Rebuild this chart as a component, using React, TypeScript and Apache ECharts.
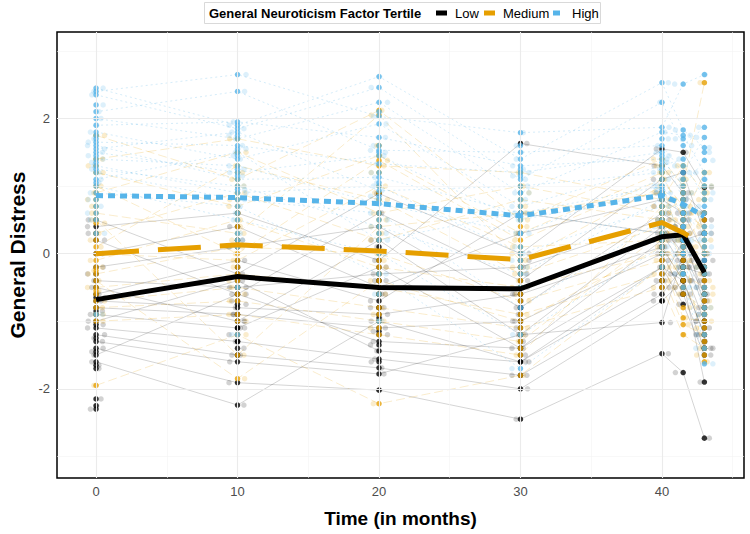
import React, { useEffect, useRef } from "react";
import * as echarts from "echarts";

// ---------- data ----------
const TIMES = [0, 10, 20, 30, 40, 41.5, 43];
const GROUPS = ["Low", "Medium", "High"];
const COLORS = ["#000000", "#E69F00", "#56B4E9"];

// individual trajectories: values at each of TIMES (null = missing)
const LOW_SUBJECTS: (number | null)[][] = [
  [0.5, -0.3, 0.89, 0.0, 1.55, 1.5, 0.98],
  [0.4, 0.6, -0.1, 1.63, 1.3, 0.9, 0.6],
  [0.2, -0.6, 0.6, -0.4, 1.1, 1.2, 0.3],
  [0.0, 0.4, -0.5, 0.3, 0.8, 0.6, 0.0],
  [-0.2, 0.1, 0.4, -0.8, 0.6, 0.4, -0.3],
  [-0.4, -0.5, -0.3, -0.2, 0.5, 0.2, -0.6],
  [-0.5, -1.0, 0.2, -1.2, 0.4, 0.0, -0.8],
  [-0.6, -0.1, -0.7, 0.6, 0.3, -0.2, -1.0],
  [-0.7, -0.8, -0.9, -0.6, 0.1, -0.4, -1.2],
  [-0.8, -0.9, -1.1, -1.0, 0.0, -0.6, -1.4],
  [-0.9, -1.1, -0.2, -1.4, -0.2, -0.75, -1.5],
  [-1.0, -0.4, -1.44, -1.6, -0.4, 0.2, 0.3],
  [-1.1, -1.3, -1.56, -1.8, -0.6, -0.2, -0.3],
  [-1.2, -1.5, -1.69, -2.0, -0.7, -0.4, -1.9],
  [-1.3, -1.6, -1.78, -1.2, -1.02, 0.0, -0.6],
  [-1.4, -1.91, -2.02, -2.45, -1.48, -1.76, -2.73],
  [-1.5, -0.6, -1.3, -1.4, 0.2, 0.4, -0.8],
  [-1.6, -2.24, -1.0, -1.6, -0.2, -0.4, -1.2],
  [-1.7, -1.1, -0.8, -0.8, 0.0, 0.6, -0.5],
  [-2.15, -1.3, -1.2, -1.0, -0.4, -0.6, -1.0],
  [-2.25, -0.9, -0.6, -0.6, 0.3, 0.2, -0.1],
  [-2.3, -1.5, -0.4, -1.8, -0.7, -0.2, -1.4],
  [0.3, 0.2, 0.1, -0.1, 0.9, 0.8, 0.5],
  [-0.3, -0.2, -0.4, -0.3, 0.7, 0.5, -0.2],
  [-0.65, -0.7, -0.6, -0.5, 0.2, 0.1, -0.4],
  [-0.85, -0.5, -0.8, -0.9, -0.3, -0.1, -0.7],
  [-1.05, -1.2, -0.95, -1.1, -0.1, -0.5, -1.1],
  [-1.25, -0.75, -1.15, -1.3, -0.5, -0.3, -1.3],
  [-1.45, -1.4, -1.6, -1.5, 0.1, -0.1, -0.9],
  [-1.65, -1.0, -1.35, -0.7, 0.5, 0.3, -0.2],
];

const MEDIUM_SUBJECTS: (number | null)[][] = [
  [1.75, 1.1, 2.12, 0.5, 1.4, 1.0, 2.53],
  [1.4, 1.7, 1.3, 1.2, 0.8, 1.3, 0.9],
  [1.2, 0.7, 1.45, 0.3, 1.2, 0.5, 1.2],
  [0.9, 1.5, 0.6, 1.0, 0.6, 0.8, 0.3],
  [0.6, 0.3, 2.05, -0.1, 1.0, 0.1, 0.6],
  [0.3, 0.9, 0.2, 0.8, 0.5, -0.1, -0.2],
  [0.1, 1.3, 0.8, -0.3, 0.4, 0.3, 0.1],
  [0.0, -0.1, 1.0, 0.1, 0.2, -0.3, -0.5],
  [-0.1, 0.5, -0.2, -0.5, 0.0, -0.6, -0.8],
  [-0.3, 0.1, 0.0, -0.7, -0.1, -0.95, -1.0],
  [-0.5, -0.3, -0.5, -0.9, -0.3, -1.05, -1.2],
  [-0.7, -0.5, -0.8, -1.1, -0.5, -1.2, -1.4],
  [-0.8, -0.7, -1.0, -1.3, 0.3, 0.2, -1.6],
  [-1.0, -0.9, -1.2, -1.5, 0.7, 0.4, -0.4],
  [-1.95, -1.2, -2.22, -1.8, -0.2, null, -0.9],
  [0.5, -1.5, 0.4, 0.6, 0.9, 0.6, 0.4],
  [-0.4, -1.85, -0.4, -1.0, 0.1, -0.4, -1.1],
  [1.0, 0.0, 1.38, 0.2, 1.1, 0.7, 0.0],
  [-0.6, -0.2, -0.6, -0.2, 0.3, 0.0, -0.6],
  [0.2, 0.4, 0.5, 0.0, 0.6, 0.2, 0.2],
  [1.3, 1.2, 1.6, 0.9, 1.3, 1.1, 1.0],
  [0.8, 0.6, 0.9, 0.4, 0.9, 0.4, 0.5],
  [0.45, 0.2, 0.3, -0.2, 0.7, 0.6, -0.3],
  [-0.2, 0.8, -0.1, -0.4, 0.5, 0.0, 0.0],
  [-0.9, -0.4, -0.3, -0.6, 0.0, -0.2, -0.7],
  [-0.25, -1.0, -0.9, -1.2, -0.4, -0.5, -1.3],
  [0.7, 1.0, 1.2, 0.7, 1.2, 0.9, 0.8],
  [-0.55, -0.6, -1.1, -1.4, 0.2, -0.8, -1.5],
];

const HIGH_SUBJECTS: (number | null)[][] = [
  [2.45, 1.9, 2.62, 1.4, 2.53, 1.83, 1.57],
  [2.4, 2.65, 2.03, 1.79, 1.87, 2.51, 2.65],
  [2.35, 1.85, 2.46, 1.1, 2.24, 1.6, 1.87],
  [2.1, 2.4, 1.53, 1.5, 1.6, 1.2, 1.72],
  [2.0, 1.7, 2.24, 0.9, 1.8, 1.75, 1.2],
  [1.9, 1.95, 1.72, 1.3, 1.4, 1.0, 1.38],
  [1.8, 1.4, 1.92, 0.7, 1.3, 1.4, 0.8],
  [1.65, 1.6, 1.33, 1.2, 1.5, 0.8, 1.0],
  [1.6, 1.1, 1.13, 0.6, 1.0, 0.6, 0.3],
  [1.55, 1.8, 0.93, 1.0, 1.2, 0.4, 0.6],
  [1.5, 1.2, 1.45, 0.5, 0.9, 0.2, -0.3],
  [1.4, 1.3, 0.74, 0.3, 1.1, 0.0, 0.0],
  [1.3, 0.9, 1.0, 0.0, 0.7, -0.3, -0.6],
  [1.25, 1.0, 0.4, -0.3, 0.8, 0.2, -0.9],
  [1.2, 0.8, 0.6, -0.8, 0.5, -0.5, -1.2],
  [1.1, 1.5, 0.2, 0.6, 0.3, 0.0, -1.4],
  [1.0, 0.5, 0.0, -1.2, 0.1, -0.3, -1.63],
  [0.9, 0.7, -0.3, -1.7, -0.2, null, 0.3],
  [0.8, 0.2, 0.8, 0.3, 0.9, 0.6, 0.4],
  [0.6, -0.5, -0.6, -0.2, 0.4, 0.2, -0.1],
  [0.3, -1.2, -1.0, null, 0.2, 0.4, 0.2],
  [-0.9, 0.1, null, -0.5, null, null, null],
  [2.2, 1.75, 2.1, 1.6, 1.7, 1.7, 1.5],
  [1.7, 1.55, 1.6, 1.25, 1.45, 1.3, 1.1],
  [1.35, 1.25, 1.2, 0.8, 1.25, 0.9, 0.7],
  [1.05, 0.95, 0.85, 0.55, 1.0, 0.5, -0.2],
  [0.7, 0.6, 0.5, 0.1, 0.6, 0.1, -0.5],
  [1.75, 1.45, 1.5, 1.15, 1.35, 1.1, 0.9],
  [0.5, 0.3, 0.3, -0.1, 0.0, -0.2, -0.8],
  [1.45, 1.15, 1.05, 0.9, 0.95, 0.7, 0.1],
];

// group means (thick lines)
const LOW_MEAN = [-0.68, -0.34, -0.5, -0.52, 0.25, 0.28, -0.28];
const MEDIUM_MEAN = [0.0, 0.13, 0.04, -0.09, 0.46, 0.31, 0.12];
const HIGH_MEAN = [0.86, 0.83, 0.74, 0.56, 0.86, 0.73, 0.55];

// axis ticks / grid
const X_TICKS = [0, 10, 20, 30, 40];
const X_MINOR = [5, 15, 25, 35, 45];
const Y_TICKS = [-2, 0, 2];
const Y_MINOR = [-3, -1, 1, 3];

// horizontal jitter pattern (months) for the translucent point layer
const JITTER = [-0.55, 0.35, -0.15, 0.6, -0.4, 0.2, 0.5, -0.6, 0.05, -0.3, 0.45];

// only the first subjects of each group have a drawn trajectory line
const TRAJECTORIES_DRAWN = 18;

const FONT = "'Liberation Sans', Arial, Helvetica, sans-serif";

const SUBJECTS = [LOW_SUBJECTS, MEDIUM_SUBJECTS, HIGH_SUBJECTS];
const MEANS = [LOW_MEAN, MEDIUM_MEAN, HIGH_MEAN];

const FAINT_LINE = [
  { color: "rgba(0,0,0,0.17)", type: "solid" as any },
  { color: "rgba(230,159,0,0.2)", type: [9, 4] as any },
  { color: "rgba(86,180,233,0.25)", type: [2, 3] as any },
];
const FAINT_POINT = ["rgba(0,0,0,0.22)", "rgba(230,159,0,0.25)", "rgba(86,180,233,0.25)"];
const MEAN_DASH: any[] = ["solid", [43, 19], [7, 5]];

export default function App() {
  const ref = useRef<HTMLDivElement>(null);

  useEffect(() => {
    if (!ref.current) return;
    const chart = echarts.init(ref.current, undefined, { renderer: "svg" });

    const series: any[] = [];

    // grid lines
    const gl = (v: number, axis: "xAxis" | "yAxis", minor: boolean) => ({
      [axis]: v,
      lineStyle: { color: minor ? "#f3f3f3" : "#ebebeb", width: minor ? 0.6 : 1.1, type: "solid" },
    });
    series.push({
      type: "line",
      data: [],
      silent: true,
      z: 0,
      markLine: {
        silent: true,
        symbol: "none",
        label: { show: false },
        animation: false,
        data: [
          ...X_MINOR.map((v) => gl(v, "xAxis", true)),
          ...Y_MINOR.map((v) => gl(v, "yAxis", true)),
          ...X_TICKS.map((v) => gl(v, "xAxis", false)),
          ...Y_TICKS.map((v) => gl(v, "yAxis", false)),
        ],
      },
    });

    // translucent jittered points
    SUBJECTS.forEach((subs, g) => {
      const pts: number[][] = [];
      subs.forEach((s, j) =>
        s.forEach((v, i) => {
          if (v === null) return;
          pts.push([TIMES[i] + JITTER[(j * 7 + i + g * 3) % JITTER.length], v]);
        })
      );
      series.push({
        type: "scatter",
        data: pts,
        symbolSize: 5.5,
        itemStyle: { color: FAINT_POINT[g] },
        silent: true,
        z: 1,
      });
    });

    // individual trajectories
    SUBJECTS.forEach((subs, g) => {
      subs.slice(0, TRAJECTORIES_DRAWN).forEach((s) => {
        const d = s
          .map((v, i) => (v === null ? null : [TIMES[i], v]))
          .filter((p) => p !== null);
        series.push({
          type: "line",
          data: d,
          showSymbol: false,
          symbol: "none",
          silent: true,
          lineStyle: { color: FAINT_LINE[g].color, width: 1, type: FAINT_LINE[g].type },
          z: 2,
        });
      });
    });

    // solid points
    SUBJECTS.forEach((subs, g) => {
      const pts: number[][] = [];
      subs.forEach((s) =>
        s.forEach((v, i) => {
          if (v !== null) pts.push([TIMES[i], v]);
        })
      );
      series.push({
        type: "scatter",
        name: GROUPS[g],
        data: pts,
        symbolSize: 5.5,
        itemStyle: { color: COLORS[g] },
        silent: true,
        z: 3,
      });
    });

    // mean lines
    MEANS.forEach((m, g) => {
      series.push({
        type: "line",
        name: GROUPS[g] + " mean",
        data: m.map((v, i) => [TIMES[i], v]),
        showSymbol: false,
        symbol: "none",
        silent: true,
        lineStyle: { color: COLORS[g], width: 5, type: MEAN_DASH[g], cap: "butt", join: "miter" },
        z: 5,
      });
    });

    const axisLabel = { color: "#4d4d4d", fontSize: 13, fontFamily: FONT };

    chart.setOption({
      animation: false,
      grid: {
        left: 57,
        right: 6,
        top: 32,
        bottom: 56,
        show: true,
        containLabel: false,
        outerBoundsMode: "none",
        borderColor: "#000",
        borderWidth: 1.5,
        backgroundColor: "#fff",
      },
      xAxis: {
        type: "value",
        min: -2.76,
        max: 45.8,
        splitLine: { show: false },
        axisLine: { show: false },
        axisTick: { show: true, length: 4, lineStyle: { color: "#333" }, customValues: X_TICKS },
        axisLabel: { ...axisLabel, margin: 7, customValues: X_TICKS },
        name: "Time (in months)",
        nameLocation: "middle",
        nameGap: 31,
        nameTextStyle: { fontFamily: FONT, fontWeight: "bold", fontSize: 19, color: "#000" },
      },
      yAxis: {
        type: "value",
        min: -3.32,
        max: 3.28,
        splitLine: { show: false },
        axisLine: { show: false },
        axisTick: { show: true, length: 4, lineStyle: { color: "#333" }, customValues: Y_TICKS },
        axisLabel: { ...axisLabel, margin: 7, customValues: Y_TICKS },
        name: "General Distress",
        nameLocation: "middle",
        nameGap: 29,
        nameRotate: 90,
        nameTextStyle: { fontFamily: FONT, fontWeight: "bold", fontSize: 21, color: "#000" },
      },
      series,
      graphic: [
        {
          type: "rect",
          shape: { x: 204.5, y: 2.5, width: 396, height: 21 },
          style: { fill: "#fff", stroke: "#d9d9d9", lineWidth: 1 },
          z: 20,
        },
        {
          type: "text",
          x: 209,
          y: 13,
          style: {
            text: "General Neuroticism Factor Tertile",
            font: `bold 13px ${FONT}`,
            fill: "#000",
            verticalAlign: "middle",
          },
          z: 21,
        },
        { type: "rect", shape: { x: 436, y: 10.5, width: 11, height: 5 }, style: { fill: COLORS[0] }, z: 21 },
        {
          type: "text",
          x: 455,
          y: 13,
          style: { text: GROUPS[0], font: `13px ${FONT}`, fill: "#000", verticalAlign: "middle" },
          z: 21,
        },
        { type: "rect", shape: { x: 484, y: 10.5, width: 11, height: 5 }, style: { fill: COLORS[1] }, z: 21 },
        {
          type: "text",
          x: 503,
          y: 13,
          style: { text: GROUPS[1], font: `13px ${FONT}`, fill: "#000", verticalAlign: "middle" },
          z: 21,
        },
        { type: "rect", shape: { x: 553, y: 10.5, width: 7, height: 5 }, style: { fill: COLORS[2] }, z: 21 },
        {
          type: "text",
          x: 572,
          y: 13,
          style: { text: GROUPS[2], font: `13px ${FONT}`, fill: "#000", verticalAlign: "middle" },
          z: 21,
        },
      ],
    });

    return () => chart.dispose();
  }, []);

  return (
    <div
      ref={ref}
      style={{ position: "fixed", left: 0, top: 0, width: 750, height: 534, background: "#fff" }}
    />
  );
}
